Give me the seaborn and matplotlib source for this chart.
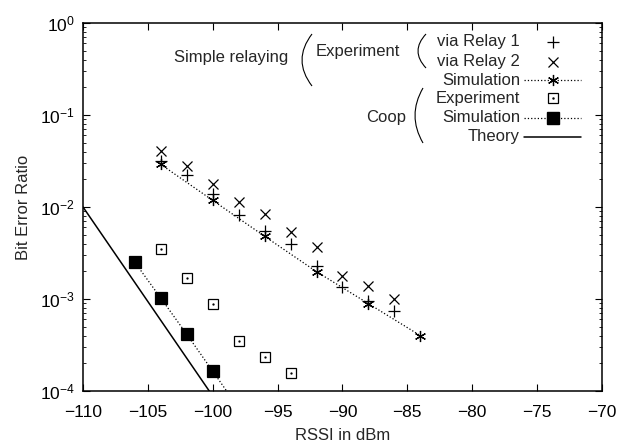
import numpy as np
import matplotlib
matplotlib.use("Agg")
import matplotlib.pyplot as plt
import seaborn as sns
from matplotlib.path import Path
from matplotlib.patches import PathPatch
from matplotlib.lines import Line2D
from matplotlib.ticker import LogLocator, FixedLocator

# ==========================================
# DATA
# ==========================================
rssi_exp = [-104, -102, -100, -98, -96, -94, -92, -90, -88, -86]
ber_relay1 = [0.032, 0.022, 0.014, 0.0081, 0.0055, 0.0040, 0.0023, 0.00136, 0.00096, 0.00074]
ber_relay2 = [0.041, 0.028, 0.018, 0.0113, 0.0083, 0.0053, 0.0037, 0.0018, 0.0014, 0.0010]

rssi_sim = [-104, -100, -96, -92, -88, -84]
ber_sim = [0.029, 0.0118, 0.0048, 0.00198, 0.00089, 0.00040]

rssi_coop_exp = [-104, -102, -100, -98, -96, -94]
ber_coop_exp = [0.0035, 0.00169, 0.00089, 0.00035, 0.000232, 0.000155]

rssi_coop_sim = [-106, -104, -102, -100, -98]
ber_coop_sim = [0.0025, 0.00102, 0.000413, 0.000164, 0.000065]

rssi_theory = [-110, -100]
ber_theory = [1.0e-2, 8.8e-5]

x_ticks = [-110, -105, -100, -95, -90, -85, -80, -75, -70]

# ==========================================
# STYLE
# ==========================================
sns.set_style("ticks")
plt.rcParams['font.family'] = ['Liberation Sans', 'DejaVu Sans']
plt.rcParams['mathtext.fontset'] = 'custom'
plt.rcParams['mathtext.rm'] = 'Liberation Sans'
plt.rcParams['mathtext.it'] = 'Liberation Sans'
plt.rcParams['font.size'] = 12

fig = plt.figure(figsize=(6.17, 4.43), dpi=100)
ax = fig.add_axes([83 / 617, 1 - 391 / 443, (602 - 83) / 617, (391 - 23) / 443])

k = 'black'
# seaborn lineplot puts a white edge on markers by default, so force black edges
mk = dict(color=k, markeredgecolor=k, markeredgewidth=0.9)

# simple relaying
sns.lineplot(x=rssi_exp, y=ber_relay1, ax=ax, linestyle='none', marker='+', markersize=8, **mk)
sns.lineplot(x=rssi_exp, y=ber_relay2, ax=ax, linestyle='none', marker='x', markersize=7, **mk)
sns.lineplot(x=rssi_sim, y=ber_sim, ax=ax, linestyle=':', linewidth=0.9,
             marker=(6, 2, 0), markersize=8, **mk)
# coop
sns.lineplot(x=rssi_coop_exp, y=ber_coop_exp, ax=ax, linestyle='none', marker='s',
             markersize=7, markerfacecolor='none', **mk)
sns.lineplot(x=rssi_coop_exp, y=ber_coop_exp, ax=ax, linestyle='none', marker='.',
             markersize=1.5, **mk)
sns.lineplot(x=rssi_coop_sim, y=ber_coop_sim, ax=ax, linestyle=':', linewidth=0.9,
             marker='s', markersize=8, **mk)
sns.lineplot(x=rssi_theory, y=ber_theory, ax=ax, color=k, linestyle='-', linewidth=1.1)

ax.set_yscale('log')
ax.set_xlim(-110, -70)
ax.set_ylim(1e-4, 1)
ax.xaxis.set_major_locator(FixedLocator(x_ticks))
ax.yaxis.set_major_locator(LogLocator(base=10, numticks=10))
ax.yaxis.set_minor_locator(LogLocator(base=10, subs=np.arange(2, 10), numticks=10))
ax.tick_params(which='both', direction='in', top=True, right=True, colors=k)
ax.tick_params(which='major', length=5, width=0.8, labelsize=12.5)
ax.tick_params(axis='x', which='major', pad=10)
ax.tick_params(axis='y', which='major', pad=6)
ax.tick_params(which='minor', length=2.5, width=0.6)
ax.tick_params(axis='x', which='minor', top=False, bottom=False)
for sp in ax.spines.values():
    sp.set_linewidth(1.1)
    sp.set_color(k)

ax.set_xlabel('RSSI in dBm', fontsize=12, labelpad=6)
ax.set_ylabel('Bit Error Ratio', fontsize=12, labelpad=6)

# ==========================================
# LEGEND (gnuplot style, drawn in pixel coordinates)
# ==========================================
ov = fig.add_axes([0, 0, 1, 1], facecolor='none')
ov.set_xlim(0, 617)
ov.set_ylim(443, 0)
ov.axis('off')


def paren(x_left, x_right, y_top, y_bot):
    ctrl = 2 * x_left - x_right
    p = Path([(x_right, y_top), (ctrl, (y_top + y_bot) / 2), (x_right, y_bot)],
             [Path.MOVETO, Path.CURVE3, Path.CURVE3])
    ov.add_patch(PathPatch(p, facecolor='none', edgecolor=k, lw=0.8))


fs = 12
ov.text(288, 57.7, 'Simple relaying', ha='right', va='center', fontsize=fs)
paren(302, 312, 34, 86)
ov.text(316, 51.7, 'Experiment', ha='left', va='center', fontsize=fs)
paren(418, 426, 34, 68)
ov.text(406, 117, 'Coop', ha='right', va='center', fontsize=fs)
paren(415, 423, 88, 143)

rows = [('via Relay 1', 41.7), ('via Relay 2', 61.7), ('Simulation', 80.0),
        ('Experiment', 98.3), ('Simulation', 117.7), ('Theory', 136.7)]
for lab, yy in rows:
    ov.text(520, yy, lab, ha='right', va='center', fontsize=fs)

mx = 553
ov.add_line(Line2D([mx], [41.7], color=k, marker='+', markersize=8, markeredgewidth=0.9))
ov.add_line(Line2D([mx], [61.7], color=k, marker='x', markersize=7, markeredgewidth=0.9))
ov.add_line(Line2D([524, 581], [80.0, 80.0], color=k, linestyle=':', linewidth=0.9))
ov.add_line(Line2D([mx], [80.0], color=k, marker=(6, 2, 0), markersize=8, markeredgewidth=0.9))
ov.add_line(Line2D([mx], [98.3], color=k, marker='s', markersize=7, markerfacecolor='none',
                   markeredgewidth=0.9))
ov.add_line(Line2D([mx], [98.3], color=k, marker='.', markersize=1.5))
ov.add_line(Line2D([524, 581], [117.7, 117.7], color=k, linestyle=':', linewidth=0.9))
ov.add_line(Line2D([mx], [117.7], color=k, marker='s', markersize=8))
ov.add_line(Line2D([524, 581], [136.7, 136.7], color=k, linestyle='-', linewidth=1.1))

fig.savefig('out.png', dpi=100)
